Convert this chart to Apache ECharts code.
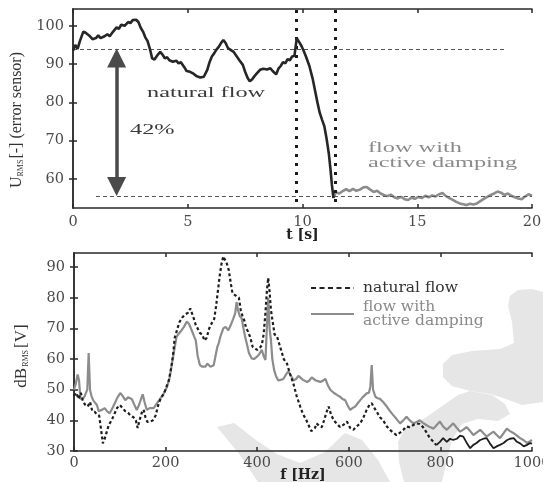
<!DOCTYPE html>
<html>
<head>
<meta charset="utf-8">
<script src="https://cdn.jsdelivr.net/npm/echarts@6.0.0/dist/echarts.min.js"></script>
<style>
html,body{margin:0;padding:0;background:#fff;}
#chart{width:543px;height:482px;}
</style>
</head>
<body>
<div id="chart"></div>
<script>
// ---------- top panel: U_RMS over time ----------
const natT = [0.0,0.1,0.2,0.3,0.45,0.55,0.7,0.85,1.0,1.1,1.2,1.35,1.5,1.6,1.75,1.9,2.0,2.1,2.25,2.4,2.5,2.6,2.75,2.85,2.95,3.05,3.15,3.25,3.35,3.45,3.55,3.7,3.8,3.9,4.0,4.1,4.2,4.35,4.5,4.6,4.7,4.85,4.95,5.1,5.25,5.4,5.55,5.7,5.85,5.95,6.05,6.15,6.25,6.35,6.45,6.55,6.65,6.75,6.85,7.0,7.1,7.25,7.4,7.5,7.6,7.7,7.8,7.9,8.0,8.15,8.3,8.45,8.6,8.7,8.85,8.95,9.05,9.15,9.25,9.35,9.45,9.55,9.65,9.75,9.85,9.95,10.05,10.15,10.3,10.45,10.55,10.65,10.75,10.85,10.95,11.05,11.15,11.22,11.28,11.35];
const natU = [93.5,95.0,94.0,96.0,98.5,98.2,97.5,96.5,96.8,97.5,96.8,97.2,97.8,97.3,98.5,99.6,99.2,100.3,100.0,101.0,100.7,101.5,101.6,101.0,99.5,98.5,97.0,96.0,94.0,91.5,91.2,92.5,93.2,92.5,91.5,91.8,91.0,90.6,90.9,90.2,90.5,89.2,88.2,88.0,87.5,86.8,86.5,86.7,88.5,90.5,92.0,92.8,93.8,94.5,95.5,96.3,95.5,94.2,93.8,93.2,92.3,91.0,89.8,88.0,86.5,85.5,86.0,86.8,87.5,88.5,88.8,88.6,88.9,88.2,87.3,88.8,89.5,90.5,90.2,91.3,91.0,92.0,92.2,96.8,95.8,94.8,93.5,92.0,89.5,86.0,83.0,80.0,77.3,75.5,73.8,70.5,66.5,62.5,58.5,55.0];
const dampT = [11.35,11.45,11.6,11.75,11.9,12.05,12.2,12.35,12.5,12.65,12.8,12.95,13.1,13.25,13.4,13.55,13.7,13.85,14.0,14.15,14.3,14.45,14.6,14.75,14.9,15.05,15.2,15.35,15.5,15.65,15.8,15.95,16.1,16.25,16.4,16.55,16.7,16.85,17.0,17.15,17.3,17.45,17.6,17.75,17.9,18.05,18.2,18.35,18.5,18.65,18.8,18.95,19.1,19.25,19.4,19.55,19.7,19.85,20.0];
const dampU = [55.0,56.5,56.2,56.8,57.3,56.8,57.4,56.9,57.2,57.8,57.9,57.2,56.6,56.9,56.2,55.8,55.5,55.9,55.2,54.9,55.3,54.7,54.5,55.1,54.8,55.3,55.0,55.6,55.2,55.7,55.4,56.0,56.3,55.5,55.0,54.5,54.0,53.6,53.4,53.2,53.5,53.3,53.6,54.2,54.8,55.3,55.8,56.2,56.7,56.4,55.8,56.2,55.6,55.2,54.9,54.7,55.4,56.0,55.6];
const refLevelU = [94.0, 55.6];          // dashed reference levels
const refLevelT = [[0, 18.8], [1.0, 20]]; // their extents in t
const switchT = [9.74, 11.43];           // vertical dotted markers
const switchU = [54, 104.4];
const arrowT = 1.9;
const arrowU = [91.6, 58.0];
const topXTicks = [0, 5, 10, 15, 20];
const topYTicks = [60, 70, 80, 90, 100];
const topYRange = [52.4, 104.4];

// ---------- bottom panel: spectra ----------
const natF = [0,5,10,15,20,25,30,35,40,45,50,55,60,63,67,71,76,82,88,94,100,106,112,118,124,130,135,139,143,148,152,156,160,166,172,178,184,190,196,202,207,212,216,220,224,230,236,242,248,254,258,262,266,270,275,280,285,290,294,298,302,306,310,314,318,322,326,330,334,338,342,346,350,355,360,364,368,372,376,380,385,390,395,400,405,410,414,418,421,424,427,430,434,438,443,448,452,458,465,472,479,486,494,500,506,512,518,522,526,530,536,541,546,551,556,561,567,573,581,588,596,603,610,617,625,632,639,645,650,656,661,668,675,683,690,697,704,712,719,726,733,741,748,755,762,770,777,785,791];
const natDB = [48,49,47,49,46,45,44.5,46,43,42.8,42,41.5,36,32.5,34,36,38.5,40,42,44,45,44,43,42.5,41.5,41,40,37.5,40,42.5,43.5,41,39.5,39.5,40,41.5,45,47.5,48.5,51,53,57,61,67,69,72,73.5,74.5,75,76.5,76,73,71,70,68.5,68,66,67,69.5,71,70.5,73,77,82,87,91,93.5,93,91,89,85,81.5,81,80.5,80,76,74,72.5,70,69,67,64,63.5,63,63.5,64.5,68,75,82,86.5,82,76,72,68,67.5,65,63,60,58.5,55,52,48,44.5,42,40.5,38.5,36.5,36,37.5,39,38,37.8,40,42.5,44.5,42,40,39,37.8,38.5,39.6,37.5,36.9,38,39,41,43.4,45,45.6,44,42.8,41,40,38,36.9,36,35.2,36,36.9,38,37.8,38.5,39,38.8,37.8,36,34.2,33,31.9];
const natHiF = [791,799,806,814,821,828,836,843,850,858,865,872,879,886,894,901,908,916,923,930,938,945,952,960,967,974,982,989,996,1000];
const natHiDB = [31.9,33,34.2,33,34,33.6,34,35,34.7,32.5,30.9,32,32.6,33.5,34,34.2,32.5,30.9,31.5,32,32.6,33.5,34,34.2,33,32.5,31.5,32,32.6,32.4];
const dampF = [0,4,8,11,14,18,22,26,29,32,35,38,42,46,50,54,58,62,67,72,78,84,89,95,101,106,112,118,126,132,137,142,148,150,154,159,165,174,181,188,195,203,209,214,219,224,230,235,240,246,251,257,262,266,270,275,280,283,287,291,294,298,302,305,309,313,316,320,326,331,337,342,348,352,355,358,362,366,370,374,377,382,388,393,399,404,410,414,418,421,424,427,430,433,437,441,446,451,457,463,468,472,476,479,485,490,494,500,504,509,514,519,523,528,533,538,544,549,554,560,567,574,580,586,592,597,603,608,614,619,625,630,634,639,644,647,650,653,658,663,668,675,683,690,697,704,712,719,726,733,741,748,755,762,770,777,785,792,799,806,814,821,828,836,843,850,857,865,872,879,887,894,901,908,916,923,930,938,945,952,960,967,974,982,989,996,1000];
const dampDB = [50,52,55,53,47,46.5,47.5,48,50,62,50,48,46.5,46,45,43,42.5,43.5,44,43,42.3,44,45.6,47.5,48.9,48,46.6,47.5,47,45,43.4,45,47.7,48.5,46,43.4,44,44,45.5,47,48.5,50.9,54,58.6,63,67.3,68.5,69.4,70.5,72.2,71.5,69.4,67.5,66,61,58,57.5,57,57.5,58.5,58.6,57.5,57.5,58,61,64,65.2,67.5,70,70.5,69.4,71,73.3,75,78.6,76,74,73.3,70,67,65.2,62,60.2,60,60.7,61.5,63,61,59.7,70,80,70,66.2,60,56.4,54.5,53,53.2,53.5,55,56,55.7,54,53,53.5,54.5,54.1,53.2,53.8,52.5,53,54,53.5,53,52.8,52.5,53,53.5,51.5,49.9,49,48.3,47.8,47,46.6,45,43.4,44,44.5,45.5,46.6,47.5,48,48.8,49,51,58,50,47.7,47.2,47,46,44.5,43,41.7,40.5,39,40,41.2,40,39,39.5,40,39.2,38.4,37.8,37.3,38.5,39.6,38,36.9,38,39,37.5,36.3,37,37.8,36.5,35.2,36,36.9,35.8,34.7,35.5,36.3,35.2,34.2,35.8,37.3,36.5,35.8,35,34.2,33.5,32.6,33.2,33.6];
const botXTicks = [0, 200, 400, 600, 800, 1000];
const botYTicks = [30, 40, 50, 60, 70, 80, 90];
const botYRange = [30, 94.6];

const zip = (a, b) => a.map((v, i) => [v, b[i]]);

const SERIF = "'Liberation Serif', 'DejaVu Serif', serif";
const LABEL = {fontFamily: "'DejaVu Serif', serif", fontSize: 14.5, color: '#4a4a4a', formatter: v => String(v)};
const AXLINE = {show: true, lineStyle: {color: '#2a2a2a', width: 1.5}};

function xAx(grid, min, max, ticks, pos, showLabel, margin, extra) {
  return Object.assign({
    type: 'value', gridIndex: grid, min: min, max: max, position: pos,
    axisLine: AXLINE, splitLine: {show: false},
    axisTick: {show: true, inside: true, length: 4, customValues: ticks, lineStyle: {color: '#2a2a2a', width: 1.5}},
    axisLabel: showLabel ? Object.assign({customValues: ticks, margin: margin}, LABEL) : {show: false}
  }, extra || {});
}
function yAx(grid, range, ticks, pos, showLabel) {
  return {
    type: 'value', gridIndex: grid, min: range[0], max: range[1], position: pos,
    axisLine: AXLINE, splitLine: {show: false},
    axisTick: {show: true, inside: true, length: 4, customValues: ticks, lineStyle: {color: '#2a2a2a', width: 1.5}},
    axisLabel: showLabel ? Object.assign({customValues: ticks, margin: 9}, LABEL) : {show: false}
  };
}

const chart = echarts.init(document.getElementById('chart'), null, {renderer: 'canvas'});

const watermark = [
  [[510,296],[518,290],[532,289],[543,292],[543,402],[522,405],[506,399],[490,394],[470,391],[452,386],[443,377],[443,364],[452,355],[472,351],[500,349],[514,343],[512,322],[508,306]],
  [[470,391],[492,395],[505,404],[510,414],[498,421],[478,419],[462,424],[452,440],[447,460],[442,482],[404,482],[399,462],[398,442],[405,428],[425,418],[445,404],[458,395]],
  [[217,427],[234,423],[256,440],[277,454],[300,463],[325,452],[345,433],[362,440],[378,460],[390,482],[258,482],[240,455]]
];

const NAME_STYLE = {fontFamily: "'DejaVu Serif', serif", fontWeight: 'bold', fontSize: 14, color: '#222', verticalAlign: 'middle'};

const option = {
  animation: false,
  backgroundColor: '#ffffff',
  grid: [
    {left: 73, top: 9, width: 459, height: 199, outerBoundsMode: 'none', containLabel: false},
    {left: 74, top: 253, width: 458, height: 198, outerBoundsMode: 'none', containLabel: false}
  ],
  xAxis: [
    xAx(0, 0, 20, topXTicks, 'bottom', true, 7, {
      name: 't [s]', nameLocation: 'middle', nameGap: 27, nameMoveOverlap: false, nameTextStyle: NAME_STYLE
    }),
    xAx(0, 0, 20, topXTicks, 'top', false, 0),
    xAx(1, 0, 1000, botXTicks, 'bottom', true, 5, {
      name: 'f [Hz]', nameLocation: 'middle', nameGap: 24, nameMoveOverlap: false, nameTextStyle: NAME_STYLE
    }),
    xAx(1, 0, 1000, botXTicks, 'top', false, 0)
  ],
  yAxis: [
    yAx(0, topYRange, topYTicks, 'left', true),
    yAx(0, topYRange, topYTicks, 'right', false),
    yAx(1, botYRange, botYTicks, 'left', true),
    yAx(1, botYRange, botYTicks, 'right', false)
  ],
  legend: {
    left: 305, top: 275, orient: 'vertical', itemWidth: 43, itemHeight: 14, itemGap: 3,
    selectedMode: false,
    itemStyle: {opacity: 0},
    textStyle: {fontFamily: "'DejaVu Serif', serif", fontSize: 15.5, lineHeight: 14, padding: [0, 0, 0, 4]},
    data: [
      {name: 'natural flow', textStyle: {color: '#333'}, lineStyle: {type: [5, 3.5], width: 2, color: '#222'}},
      {name: 'flow with\nactive damping', textStyle: {color: '#8a8a8a'}, lineStyle: {width: 2, color: '#8c8c8c'}}
    ]
  },
  graphic: [
    ...watermark.map(p => ({type: 'polygon', z: -10, silent: true, shape: {points: p}, style: {fill: '#e6e6e6'}})),
    {type: 'text', x: 147, y: 93, scaleX: 1.62, silent: true,
      style: {text: 'natural flow', font: '15px ' + SERIF, fill: '#3a3a3a', textVerticalAlign: 'middle'}},
    {type: 'text', x: 130, y: 130, scaleX: 1.62, silent: true,
      style: {text: '42%', font: '15px ' + SERIF, fill: '#3a3a3a', textVerticalAlign: 'middle'}},
    {type: 'text', x: 368, y: 156, scaleX: 1.62, silent: true,
      style: {text: 'flow with\nactive damping', font: '15px ' + SERIF, lineHeight: 15, fill: '#8a8a8a', textVerticalAlign: 'middle'}},
    {type: 'text', x: 17, y: 120, rotation: Math.PI / 2, silent: true,
      style: {
        text: '{a|U}{s|RMS}{a|[-] (error sensor)}', textAlign: 'center', textVerticalAlign: 'middle',
        rich: {a: {fontFamily: SERIF, fontSize: 16, fill: '#333', color: '#333'}, s: {fontFamily: SERIF, fontSize: 8, color: '#333', fill: '#333', padding: [7, 1, 0, 0]}}
      }},
    {type: 'text', x: 22, y: 356, rotation: Math.PI / 2, silent: true,
      style: {
        text: '{a|dB}{s|RMS}{a|[V]}', textAlign: 'center', textVerticalAlign: 'middle',
        rich: {a: {fontFamily: SERIF, fontSize: 17, fill: '#333', color: '#333'}, s: {fontFamily: SERIF, fontSize: 8, color: '#333', fill: '#333', padding: [8, 2, 0, 1]}}
      }}
  ],
  series: [
    {
      name: 'U natural flow', type: 'line', xAxisIndex: 0, yAxisIndex: 0, symbol: 'none', z: 5,
      data: zip(natT, natU), lineStyle: {color: '#262626', width: 2.6},
      markLine: {
        silent: true, symbol: 'none', animation: false, label: {show: false},
        lineStyle: {type: [4, 3], width: 1, color: '#555'},
        data: [
          [{coord: [refLevelT[0][0], refLevelU[0]]}, {coord: [refLevelT[0][1], refLevelU[0]]}],
          [{coord: [refLevelT[1][0], refLevelU[1]]}, {coord: [refLevelT[1][1], refLevelU[1]]}],
          [{coord: [switchT[0], switchU[0]], lineStyle: {type: [3, 6], width: 3, color: '#1a1a1a'}}, {coord: [switchT[0], switchU[1]]}],
          [{coord: [switchT[1], switchU[0]], lineStyle: {type: [3, 6], width: 3, color: '#1a1a1a'}}, {coord: [switchT[1], switchU[1]]}]
        ]
      }
    },
    {
      name: 'U active damping', type: 'line', xAxisIndex: 0, yAxisIndex: 0, symbol: 'none', z: 4,
      data: zip(dampT, dampU), lineStyle: {color: '#8c8c8c', width: 2.6},
      markLine: {
        silent: true, symbol: ['triangle', 'triangle'], symbolSize: [19, 19], animation: false, label: {show: false},
        lineStyle: {type: 'solid', width: 3.5, color: '#4a4a4a'},
        itemStyle: {color: '#4a4a4a'},
        data: [[{coord: [arrowT, arrowU[0]]}, {coord: [arrowT, arrowU[1]]}]]
      }
    },
    {
      name: 'flow with\nactive damping', type: 'line', xAxisIndex: 2, yAxisIndex: 2, symbol: 'none', z: 3,
      data: zip(dampF, dampDB), lineStyle: {color: '#8c8c8c', width: 2.2}, itemStyle: {color: '#8c8c8c'}
    },
    {
      name: 'natural flow', type: 'line', xAxisIndex: 2, yAxisIndex: 2, symbol: 'none', z: 4,
      data: zip(natF, natDB), lineStyle: {color: '#1e1e1e', width: 2.2, type: [3, 2.5]}, itemStyle: {color: '#1e1e1e'}
    },
    {
      name: 'natural flow (high f)', type: 'line', xAxisIndex: 2, yAxisIndex: 2, symbol: 'none', z: 4,
      data: zip(natHiF, natHiDB), lineStyle: {color: '#1e1e1e', width: 1.8}, itemStyle: {color: '#1e1e1e'}
    }
  ]
};
chart.setOption(option);
</script>
</body>
</html>
